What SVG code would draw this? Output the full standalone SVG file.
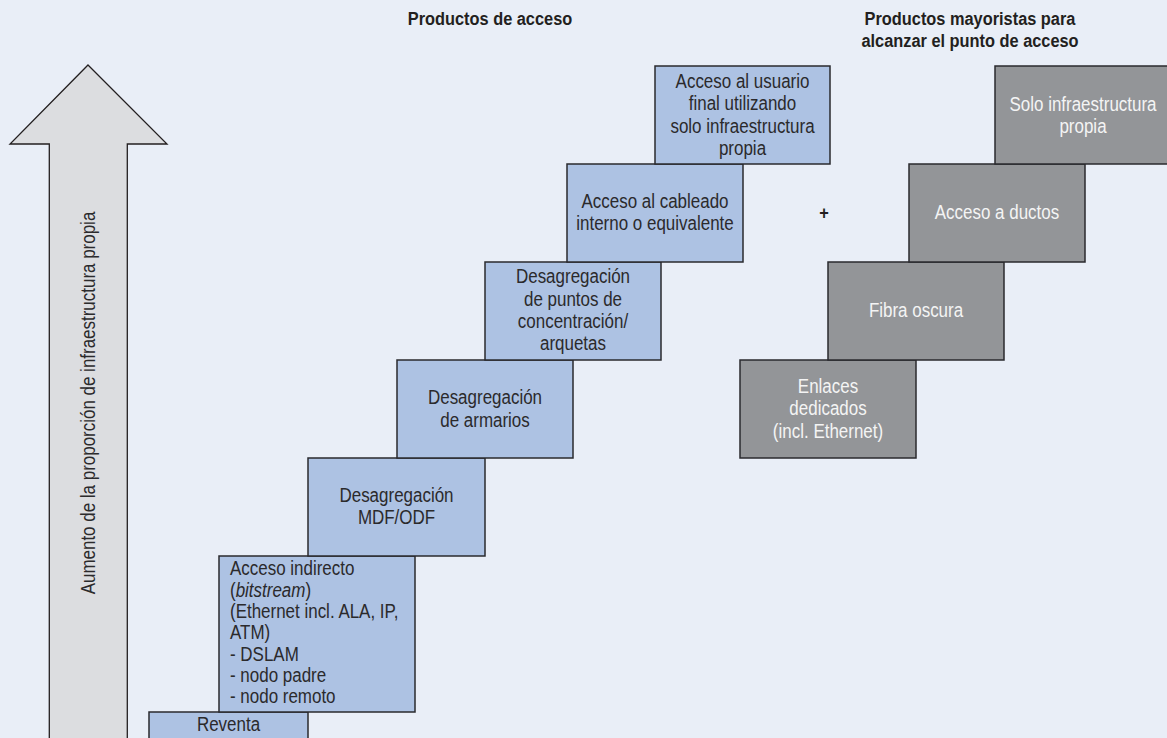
<svg xmlns="http://www.w3.org/2000/svg" width="1167" height="738" viewBox="0 0 1167 738">
<style>
.bg{fill:#e9eef7}
.blue{fill:#adc2e3;stroke:#2a2a2e;stroke-width:1.5}
.grey{fill:#939598;stroke:#2a2a2e;stroke-width:1.5}
.t{font-family:"Liberation Sans",Arial,sans-serif;font-size:19.5px;fill:#2b2a2c}
.tc{text-anchor:middle}
.tw{font-family:"Liberation Sans",Arial,sans-serif;font-size:19.5px;fill:#f4f4f4;text-anchor:middle}
.h{font-family:"Liberation Sans",Arial,sans-serif;font-size:18.6px;font-weight:bold;fill:#231f20;text-anchor:middle}
</style>
<rect class="bg" x="0" y="0" width="1167" height="738"/>

<g id="arrow">
<polygon points="88,65 167,144 127.3,144 127.3,745 49.3,745 49.3,144 10,144" fill="#dcdde0" stroke="#231f20" stroke-width="1.3"/>
<text class="t tc" transform="translate(94.5,403) rotate(-90) scale(0.87,1)">Aumento de la proporción de infraestructura propia</text>
</g>

<g id="headers">
<text class="h" transform="translate(490,25) scale(0.88,1)">Productos de acceso</text>
<text class="h" transform="translate(970,25) scale(0.88,1)">Productos mayoristas para</text>
<text class="h" transform="translate(970,47) scale(0.88,1)">alcanzar el punto de acceso</text>
<text class="h" transform="translate(824,219) scale(0.88,1)">+</text>
</g>

<g id="connectors"></g>

<g id="reventa">
<rect class="blue" x="149" y="712" width="159" height="40"/>
<text class="t tc" transform="translate(228.5,731) scale(0.87,1)">Reventa</text>
</g>

<g id="indirecto">
<rect class="blue" x="219" y="556" width="196" height="156"/>
<text class="t" transform="translate(230,575) scale(0.87,1)">Acceso indirecto</text>
<text class="t" transform="translate(230,596.5) scale(0.87,1)">(<tspan font-style="italic">bitstream</tspan>)</text>
<text class="t" transform="translate(230,618) scale(0.87,1)">(Ethernet incl. ALA, IP,</text>
<text class="t" transform="translate(230,639) scale(0.87,1)">ATM)</text>
<text class="t" transform="translate(230,660.5) scale(0.87,1)">- DSLAM</text>
<text class="t" transform="translate(230,681.5) scale(0.87,1)">- nodo padre</text>
<text class="t" transform="translate(230,703) scale(0.87,1)">- nodo remoto</text>
</g>

<g id="mdf">
<rect class="blue" x="308" y="458" width="177" height="98"/>
<text class="t tc" transform="translate(396.5,502) scale(0.87,1)">Desagregación</text>
<text class="t tc" transform="translate(396.5,524) scale(0.87,1)">MDF/ODF</text>
</g>

<g id="armarios">
<rect class="blue" x="397" y="360" width="176" height="98"/>
<text class="t tc" transform="translate(485,404) scale(0.87,1)">Desagregación</text>
<text class="t tc" transform="translate(485,427) scale(0.87,1)">de armarios</text>
</g>

<g id="puntos">
<rect class="blue" x="485" y="262" width="176" height="98"/>
<text class="t tc" transform="translate(573,283) scale(0.87,1)">Desagregación</text>
<text class="t tc" transform="translate(573,306) scale(0.87,1)">de puntos de</text>
<text class="t tc" transform="translate(573,328) scale(0.87,1)">concentración/</text>
<text class="t tc" transform="translate(573,350) scale(0.87,1)">arquetas</text>
</g>

<g id="cableado">
<rect class="blue" x="567" y="164" width="176" height="98"/>
<text class="t tc" transform="translate(655,208) scale(0.87,1)">Acceso al cableado</text>
<text class="t tc" transform="translate(655,230) scale(0.87,1)">interno o equivalente</text>
</g>

<g id="usuario">
<rect class="blue" x="655" y="66" width="175" height="98"/>
<text class="t tc" transform="translate(742.5,88) scale(0.87,1)">Acceso al usuario</text>
<text class="t tc" transform="translate(742.5,110) scale(0.87,1)">final utilizando</text>
<text class="t tc" transform="translate(742.5,133) scale(0.87,1)">solo infraestructura</text>
<text class="t tc" transform="translate(742.5,155) scale(0.87,1)">propia</text>
</g>

<g id="enlaces">
<rect class="grey" x="740" y="360" width="176" height="98"/>
<text class="tw" transform="translate(828,393) scale(0.87,1)">Enlaces</text>
<text class="tw" transform="translate(828,415) scale(0.87,1)">dedicados</text>
<text class="tw" transform="translate(828,438) scale(0.87,1)">(incl. Ethernet)</text>
</g>

<g id="fibra">
<rect class="grey" x="828" y="262" width="176" height="98"/>
<text class="tw" transform="translate(916,317) scale(0.87,1)">Fibra oscura</text>
</g>

<g id="ductos">
<rect class="grey" x="909" y="164" width="176" height="98"/>
<text class="tw" transform="translate(997,219) scale(0.87,1)">Acceso a ductos</text>
</g>

<g id="solo">
<rect class="grey" x="995" y="66" width="176" height="98"/>
<text class="tw" transform="translate(1083,111) scale(0.87,1)">Solo infraestructura</text>
<text class="tw" transform="translate(1083,133) scale(0.87,1)">propia</text>
</g>
</svg>
